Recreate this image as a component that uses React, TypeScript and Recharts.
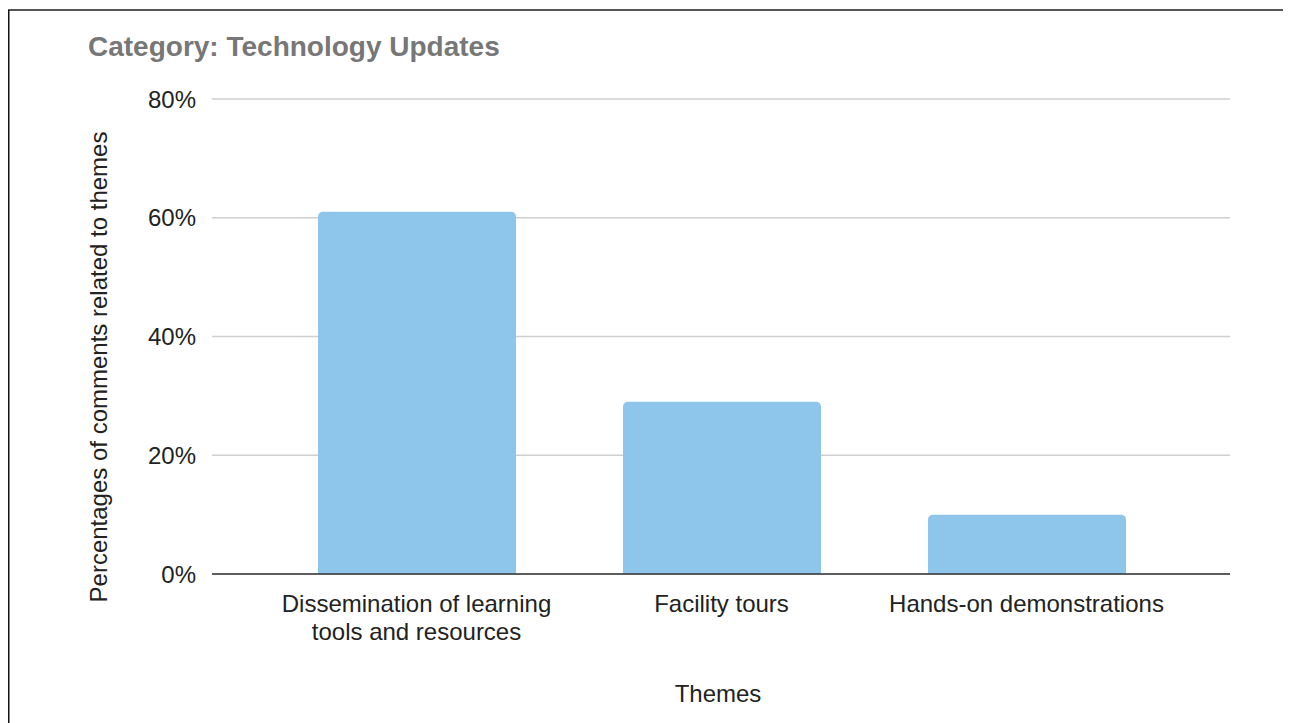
import { BarChart, Bar, XAxis, YAxis, CartesianGrid } from "recharts";

const themes = ["Dissemination of learning\ntools and resources", "Facility tours", "Hands-on demonstrations"];
const shares = [61, 29, 10];
const yTicks = [0, 20, 40, 60, 80];

const data = themes.map((theme, i) => ({ theme, share: shares[i] }));
const FONT = "'Liberation Sans', Arial, Helvetica, sans-serif";

function ThemeTick({ x, y, payload }: any) {
  const lines = String(payload.value).split("\n");
  return (
    <text x={x} y={y} textAnchor="middle" fontFamily={FONT} fontSize={24} fill="#222">
      {lines.map((line, i) => (
        <tspan key={i} x={x} dy={i === 0 ? 36 : 28}>{line}</tspan>
      ))}
    </text>
  );
}

export default function App() {
  return (
    <div style={{ position: "relative", width: 1291, height: 723, margin: "-8px 0 0 -8px", overflow: "hidden", background: "#fff" }}>
      <svg width={1291} height={723} style={{ position: "absolute", left: 0, top: 0 }}>
        <text x={397} y={1} fontFamily={FONT} fontWeight="bold" fontSize={30} fill="#111">Technology Updates Theme Group</text>
        <line x1={8} y1={10} x2={1291} y2={10} stroke="#555" strokeWidth={2} />
        <line x1={8.5} y1={10} x2={8.5} y2={723} stroke="#111" strokeWidth={2} />
        <text x={88} y={56} fontFamily={FONT} fontWeight="bold" fontSize={28} fill="#777">Category: Technology Updates</text>
        <text x={98} y={367} transform="rotate(-90 98 367)" textAnchor="middle" dominantBaseline="central" fontFamily={FONT} fontSize={24} fill="#222">
          Percentages of comments related to themes
        </text>
        <text x={718} y={702} textAnchor="middle" fontFamily={FONT} fontSize={24} fill="#222">Themes</text>
      </svg>
      <div style={{ position: "absolute", left: 0, top: 0 }}>
        <BarChart width={1291} height={723} data={data} margin={{ top: 99, right: 61, bottom: 89, left: 0 }}>
          <CartesianGrid vertical={false} stroke="#cfcfcf" strokeWidth={1.5} />
          <XAxis
            dataKey="theme"
            height={60}
            tick={<ThemeTick />}
            tickLine={false}
            tickSize={0}
            interval={0}
            padding={{ left: 52, right: 51 }}
            axisLine={{ stroke: "#333", strokeWidth: 1.5 }}
          />
          <YAxis
            width={212}
            domain={[0, 80]}
            ticks={yTicks}
            tickFormatter={(v) => `${v}%`}
            axisLine={false}
            tickLine={false}
            tickSize={0}
            tickMargin={16}
            tick={{ fontFamily: FONT, fontSize: 24, fill: "#222" }}
          />
          <Bar dataKey="share" fill="#8ec5eb" barSize={198} radius={[5, 5, 0, 0]} isAnimationActive={false} />
        </BarChart>
      </div>
    </div>
  );
}
